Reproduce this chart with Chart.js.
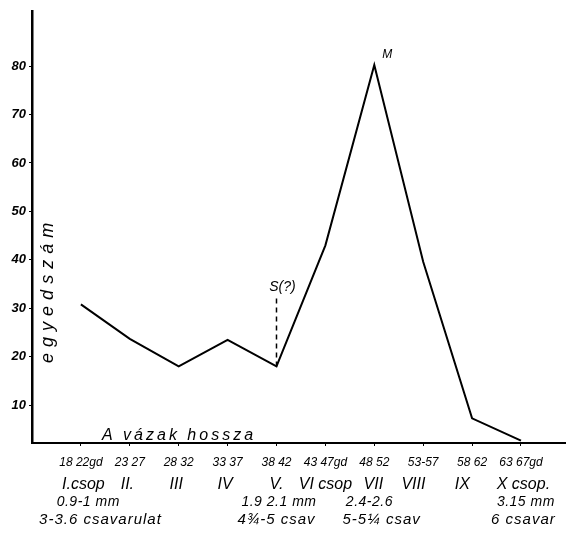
<!DOCTYPE html>
<html lang="hu">
<head>
  <meta charset="UTF-8" />
  <title>Egyedszám – vázak hossza</title>
  <script src="https://cdn.jsdelivr.net/npm/chart.js"></script>
  <style>
    html, body { margin: 0; padding: 0; background: #fff; }
    #wrap { width: 577px; height: 535px; }
  </style>
</head>
<body>
  <div id="wrap"><canvas id="chart" width="577" height="535"></canvas></div>

  <script>
    // hossz-csoportok (gd) és egyedszám
    const lengths = ['18 22gd', '23 27', '28 32', '33 37', '38 42', '43 47gd', '48 52', '53-57', '58 62', '63 67gd'];
    const counts = [30.8, 23.7, 18, 23.5, 18, 43, 80.2, 39.6, 7.3, 2.7];
    const yTicks = [10, 20, 30, 40, 50, 60, 70, 80];

    // feliratok a tengely alatt: [szöveg, hol áll (csoport sorszám)]
    const groupRow = [['I.csop', 1.05], ['II.', 1.95], ['III', 2.95], ['IV', 3.95], ['V.', 5],
                      ['VI csop', 6.0], ['VII', 6.98], ['VIII', 7.8], ['IX', 8.8], ['X csop.', 10.05]];
    const diameterRow = [['0.9-1 mm', 1.15], ['1.9 2.1 mm', 5.05], ['2.4-2.6', 6.9], ['3.15 mm', 10.1]];
    const turnRow = [['3-3.6 csavarulat', 1.4], ['4¾-5 csav', 5], ['5-5¼ csav', 7.15], ['6 csavar', 10.05]];

    const FONT = '"Liberation Sans", "DejaVu Sans", sans-serif';

    const extras = {
      id: 'extras',
      afterDraw(chart) {
        const { ctx, scales: { x, y }, chartArea } = chart;
        ctx.save();
        ctx.fillStyle = '#000';
        ctx.strokeStyle = '#000';
        ctx.textAlign = 'center';
        ctx.textBaseline = 'middle';

        const rows = [
          { list: groupRow, dy: 42, font: 'italic 16px ' + FONT, gap: '0px' },
          { list: diameterRow, dy: 59, font: 'italic 14px ' + FONT, gap: '0.5px' },
          { list: turnRow, dy: 77, font: 'italic 15px ' + FONT, gap: '1px' }
        ];
        rows.forEach(r => {
          ctx.font = r.font;
          ctx.letterSpacing = r.gap;
          r.list.forEach(([t, at]) => ctx.fillText(t, x.getPixelForValue(at), chartArea.bottom + r.dy));
        });
        ctx.letterSpacing = '0px';

        // S(?) jelölés az V. csoportnál
        const sx = x.getPixelForValue(5);
        ctx.setLineDash([5, 4]);
        ctx.lineWidth = 1.5;
        ctx.beginPath();
        ctx.moveTo(sx, y.getPixelForValue(counts[4]));
        ctx.lineTo(sx, y.getPixelForValue(32));
        ctx.stroke();
        ctx.setLineDash([]);
        ctx.font = 'italic 14px ' + FONT;
        ctx.fillText('S(?)', sx + 6, y.getPixelForValue(34.3));

        // M csúcs
        ctx.font = 'italic 12px ' + FONT;
        ctx.fillText('M', x.getPixelForValue(7) + 13, y.getPixelForValue(counts[6]) - 10);

        // tengelyfeliratok
        ctx.font = 'italic 16px ' + FONT;
        ctx.letterSpacing = '3px';
        ctx.textAlign = 'left';
        ctx.fillText('A vázak hossza', chartArea.left + 70, chartArea.bottom - 7);

        ctx.translate(chartArea.left + 16, y.getPixelForValue(33.8));
        ctx.rotate(-Math.PI / 2);
        ctx.textAlign = 'center';
        ctx.font = 'italic 18px ' + FONT;
        ctx.letterSpacing = '6px';
        ctx.fillText('egyedszám', 0, 0);
        ctx.restore();
      }
    };

    new Chart(document.getElementById('chart'), {
      type: 'line',
      data: {
        datasets: [{
          data: counts.map((v, i) => ({ x: i + 1, y: v })),
          borderColor: '#000',
          borderWidth: 2,
          pointRadius: 0,
          tension: 0,
          fill: false
        }]
      },
      options: {
        responsive: false,
        animation: false,
        layout: { padding: { top: 6, right: 12 } },
        plugins: {
          legend: { display: false },
          tooltip: { enabled: false }
        },
        scales: {
          x: {
            type: 'linear',
            min: 0,
            max: 10.9,
            afterBuildTicks: s => { s.ticks = lengths.map((_, i) => ({ value: i + 1 })); },
            afterFit: s => { s.height = 92; },
            border: { display: true, color: '#000', width: 2 },
            grid: { drawOnChartArea: false, drawTicks: true, tickLength: 3, color: '#000' },
            ticks: {
              autoSkip: false,
              maxRotation: 0,
              padding: 9,
              color: '#000',
              font: { family: FONT, size: 12, style: 'italic' },
              callback: v => lengths[v - 1] || ''
            }
          },
          y: {
            min: 2.2,
            max: 91.4,
            afterBuildTicks: s => { s.ticks = yTicks.map(v => ({ value: v })); },
            afterFit: s => { s.width = 32; },
            border: { display: true, color: '#000', width: 2.5 },
            grid: { drawOnChartArea: false, drawTicks: true, tickLength: 3, color: '#000' },
            ticks: {
              padding: 3,
              color: '#000',
              font: { family: FONT, size: 13, style: 'italic', weight: 'bold' }
            }
          }
        }
      },
      plugins: [extras]
    });
  </script>
</body>
</html>
